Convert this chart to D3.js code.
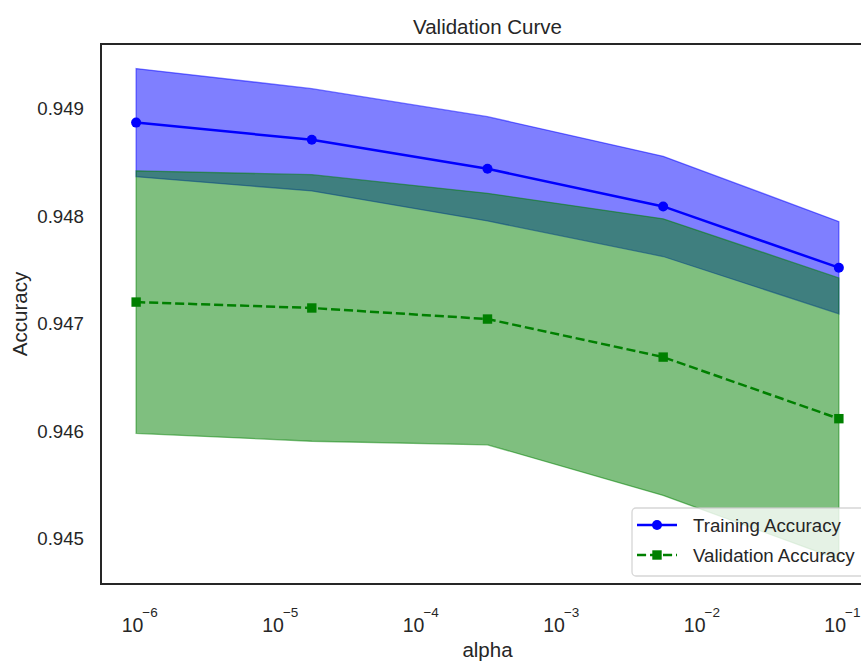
<!DOCTYPE html>
<html>
<head>
<meta charset="utf-8">
<script src="https://cdn.jsdelivr.net/npm/d3@7"></script>
<style>
  body { margin: 0; background: #fff; }
  svg { display: block; font-family: "Liberation Sans", Arial, sans-serif; }
</style>
</head>
<body>
<div id="chart"></div>
<script>
// values
var alphas = [1e-6, 1.778e-5, 3.162e-4, 5.623e-3, 1e-1];
var trainMean = [0.94887, 0.94871, 0.94844, 0.94809, 0.94752];
var trainStd = [0.000503, 0.000476, 0.000485, 0.000466, 0.000429];
var validMean = [0.94720, 0.947145, 0.947042, 0.946688, 0.946115];
var validStd = [0.001221, 0.00124, 0.00117, 0.001287, 0.00131];
var yTicks = [0.945, 0.946, 0.947, 0.948, 0.949];
var xTicks = [1e-6, 1e-5, 1e-4, 1e-3, 1e-2, 1e-1];

var width = 861, height = 662;
// axes box (right edge runs past the window, as in the reference)
var axLeft = 101, axTop = 44, axRight = 874, axBottom = 584;
var ink = '#262626';

var svg = d3.select('#chart').append('svg')
    .attr('width', width)
    .attr('height', height);

var train = alphas.map(function (a, i) {
    return { alpha: a, mean: trainMean[i], lo: trainMean[i] - trainStd[i], hi: trainMean[i] + trainStd[i] };
});
var valid = alphas.map(function (a, i) {
    return { alpha: a, mean: validMean[i], lo: validMean[i] - validStd[i], hi: validMean[i] + validStd[i] };
});

// matplotlib style autoscale with 5% margins
var lx = d3.extent(alphas).map(Math.log10);
var padX = (lx[1] - lx[0]) * 0.05;
var x = d3.scaleLog()
    .domain([Math.pow(10, lx[0] - padX), Math.pow(10, lx[1] + padX)])
    .range([axLeft, axRight]);

var yMin = d3.min(train.concat(valid), function (d) { return d.lo; });
var yMax = d3.max(train.concat(valid), function (d) { return d.hi; });
var padY = (yMax - yMin) * 0.05;
var y = d3.scaleLinear()
    .domain([yMin - padY, yMax + padY])
    .range([axBottom, axTop]);

var area = d3.area()
    .x(function (d) { return x(d.alpha); })
    .y0(function (d) { return y(d.lo); })
    .y1(function (d) { return y(d.hi); });
var line = d3.line()
    .x(function (d) { return x(d.alpha); })
    .y(function (d) { return y(d.mean); });

var plot = svg.append('g');

// bands
plot.append('path')
    .datum(train)
    .attr('d', area)
    .attr('fill', '#0000ff').attr('fill-opacity', 0.5)
    .attr('stroke', '#0000ff').attr('stroke-opacity', 0.5).attr('stroke-width', 1.3);
plot.append('path')
    .datum(valid)
    .attr('d', area)
    .attr('fill', '#008000').attr('fill-opacity', 0.5)
    .attr('stroke', '#008000').attr('stroke-opacity', 0.5).attr('stroke-width', 1.3);

// training line
plot.append('path')
    .datum(train)
    .attr('d', line)
    .attr('fill', 'none')
    .attr('stroke', '#0000ff')
    .attr('stroke-width', 2.5);
plot.selectAll('circle.train')
    .data(train)
    .enter()
    .append('circle')
    .classed('train', true)
    .attr('cx', function (d) { return x(d.alpha); })
    .attr('cy', function (d) { return y(d.mean); })
    .attr('r', 5)
    .attr('fill', '#0000ff');

// validation line
plot.append('path')
    .datum(valid)
    .attr('d', line)
    .attr('fill', 'none')
    .attr('stroke', '#008000')
    .attr('stroke-width', 2.5)
    .attr('stroke-dasharray', '9.1,3.9');
plot.selectAll('rect.valid')
    .data(valid)
    .enter()
    .append('rect')
    .classed('valid', true)
    .attr('x', function (d) { return x(d.alpha) - 4.7; })
    .attr('y', function (d) { return y(d.mean) - 4.7; })
    .attr('width', 9.4)
    .attr('height', 9.4)
    .attr('fill', '#008000');

// y axis (no tick marks)
var yAxis = svg.append('g')
    .attr('transform', 'translate(' + axLeft + ',0)')
    .call(d3.axisLeft(y).tickValues(yTicks).tickSize(0).tickPadding(17).tickFormat(d3.format('.3f')));
yAxis.select('.domain').remove();
yAxis.selectAll('text')
    .attr('fill', ink)
    .style('font-size', '18.7px')
    .style('font-family', '"Liberation Sans", Arial, sans-serif');

// x axis with 10^n labels
var xAxis = svg.append('g')
    .attr('transform', 'translate(0,' + axBottom + ')')
    .call(d3.axisBottom(x).tickValues(xTicks).tickSize(0).tickFormat(''));
xAxis.select('.domain').remove();
xAxis.selectAll('.tick text').remove();
xAxis.selectAll('.tick').each(function (d) {
    var t = d3.select(this).append('text')
        .attr('x', -15)
        .attr('y', 48)
        .attr('text-anchor', 'start')
        .attr('fill', ink)
        .style('font-family', '"Liberation Sans", Arial, sans-serif');
    t.append('tspan').style('font-size', '19.5px').text('10');
    t.append('tspan')
        .attr('dx', -1)
        .attr('dy', -15)
        .style('font-size', '13.5px')
        .text('\u2212' + Math.abs(Math.round(Math.log10(d))));
});

// frame
svg.append('rect')
    .attr('x', axLeft).attr('y', axTop)
    .attr('width', axRight - axLeft).attr('height', axBottom - axTop)
    .attr('fill', 'none')
    .attr('stroke', ink)
    .attr('stroke-width', 2);

// labels
svg.append('text')
    .attr('x', (axLeft + axRight) / 2).attr('y', 34)
    .attr('text-anchor', 'middle')
    .attr('fill', ink)
    .style('font-size', '20.5px')
    .text('Validation Curve');
svg.append('text')
    .attr('x', (axLeft + axRight) / 2).attr('y', 657)
    .attr('text-anchor', 'middle')
    .attr('fill', ink)
    .style('font-size', '20.5px')
    .text('alpha');
svg.append('text')
    .attr('transform', 'translate(27,' + ((axTop + axBottom) / 2) + ') rotate(-90)')
    .attr('text-anchor', 'middle')
    .attr('fill', ink)
    .style('font-size', '20.5px')
    .text('Accuracy');

// legend
var legend = svg.append('g').attr('transform', 'translate(632,508)');
legend.append('rect')
    .attr('width', 233).attr('height', 68)
    .attr('rx', 4)
    .attr('fill', '#fff').attr('fill-opacity', 0.8)
    .attr('stroke', '#cccccc').attr('stroke-opacity', 0.8).attr('stroke-width', 1.3);
var items = [
    { label: 'Training Accuracy', color: '#0000ff', dash: null, marker: 'circle' },
    { label: 'Validation Accuracy', color: '#008000', dash: '9.1,3.9', marker: 'square' }
];
var row = legend.selectAll('g.item')
    .data(items)
    .enter()
    .append('g')
    .classed('item', true)
    .attr('transform', function (d, i) { return 'translate(0,' + (17 + i * 30) + ')'; });
row.append('line')
    .attr('x1', 5).attr('x2', 45)
    .attr('stroke', function (d) { return d.color; })
    .attr('stroke-width', 2.5)
    .attr('stroke-dasharray', function (d) { return d.dash; });
row.filter(function (d) { return d.marker === 'circle'; })
    .append('circle')
    .attr('cx', 25).attr('r', 5)
    .attr('fill', function (d) { return d.color; });
row.filter(function (d) { return d.marker === 'square'; })
    .append('rect')
    .attr('x', 20.3).attr('y', -4.7).attr('width', 9.4).attr('height', 9.4)
    .attr('fill', function (d) { return d.color; });
row.append('text')
    .attr('x', 61).attr('dy', '0.35em')
    .attr('fill', ink)
    .style('font-size', '18.7px')
    .text(function (d) { return d.label; });
</script>
</body>
</html>
